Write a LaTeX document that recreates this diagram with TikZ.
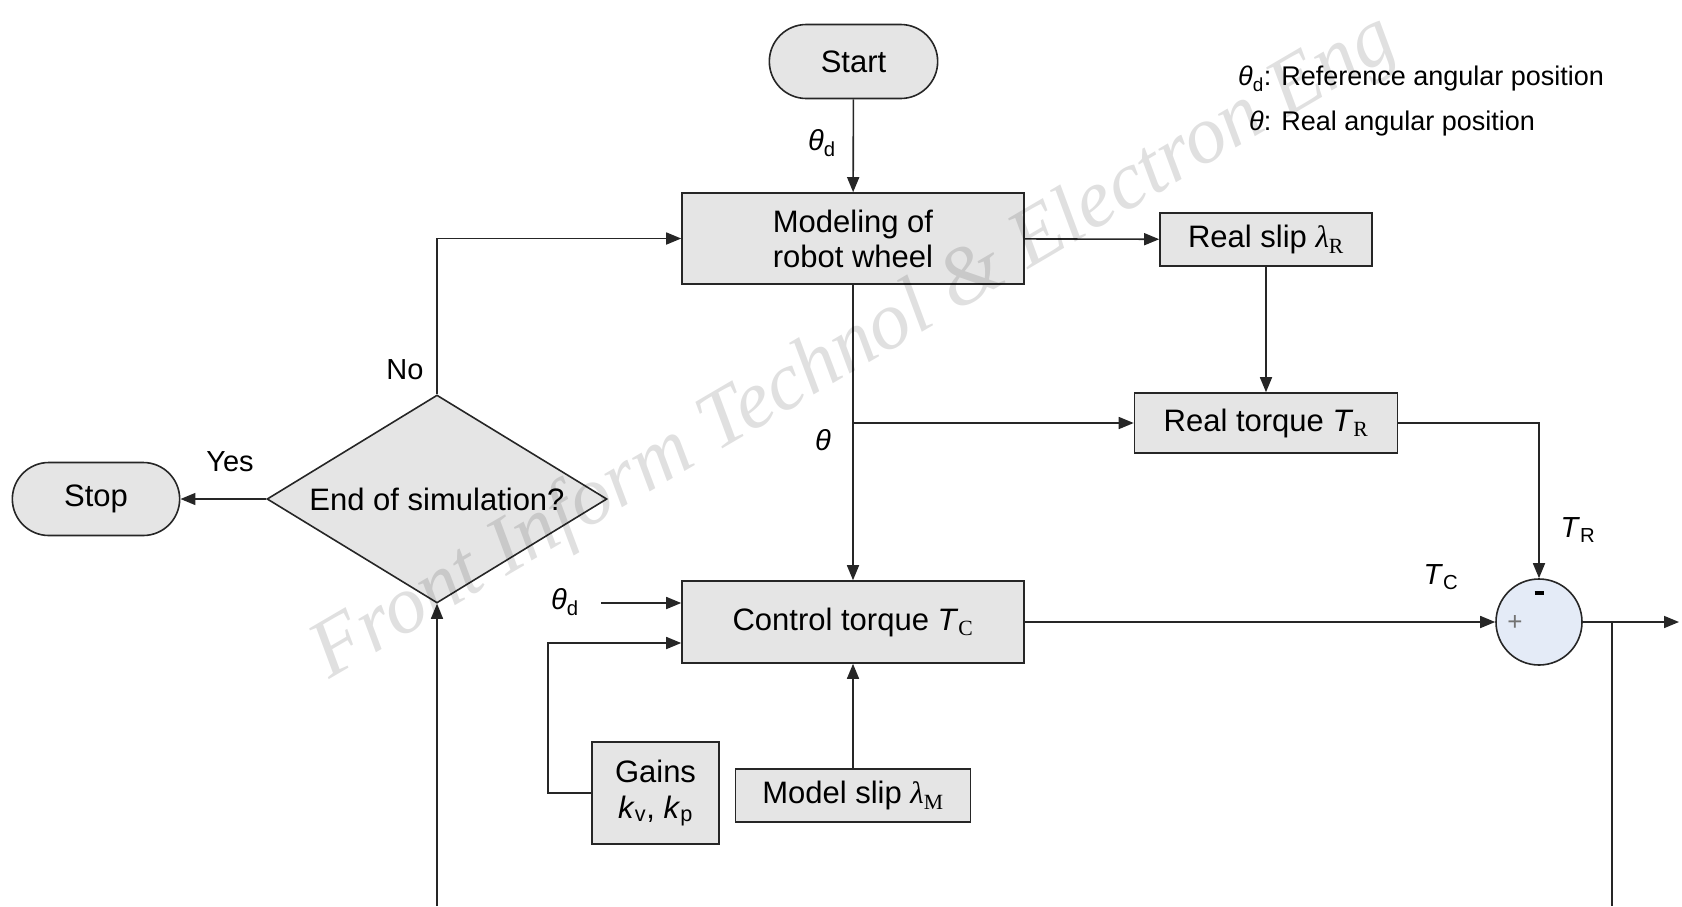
\documentclass[tikz,border=0pt]{standalone}
\usepackage{fontspec}
\setmainfont{Liberation Sans}
\newfontfamily\serif{Liberation Serif}
\usepackage{tikz}
\usetikzlibrary{arrows.meta,shapes.geometric,shapes.misc}

% symbols with serif subscripts as they are set in the boxes
\newcommand{\symT}[1]{\textit{T}\textsubscript{\serif #1}}
\newcommand{\symlam}[1]{{\serif\textit{λ}}\textsubscript{\serif #1}}
\newcommand{\thd}{\textit{θ}\textsubscript{d}}

\definecolor{sumblue}{RGB}{228,235,247}

\begin{document}
\begin{tikzpicture}[x=1pt, y=-1pt,
    font=\fontsize{31}{36}\selectfont,
    line width=1.6pt, draw=black!85,
    block/.style={rectangle, draw=black!85, fill=black!10, inner sep=2pt},
    term/.style={rounded rectangle, draw=black!85, fill=black!10,
      minimum height=74pt},
    decide/.style={diamond, draw=black!85, fill=black!10, inner sep=0pt,
      aspect=1.63, minimum width=340pt, minimum height=208pt},
    sumjunc/.style={circle, draw=black!85, fill=sumblue,
      minimum size=86pt, inner sep=0pt},
    arr/.style={-{Triangle[length=15pt, width=12pt]}},
    lbl/.style={font=\fontsize{29}{34}\selectfont},
    legend/.style={anchor=west, font=\fontsize{27}{30}\selectfont}]
  \useasboundingbox (0,0) rectangle (1682,906);

  % boxes
  \node[term, minimum width=175pt] (start) at (853.5,61.5) {Start};
  \node[block, minimum width=342pt, minimum height=91pt, align=center,
    font=\fontsize{31}{35}\selectfont] (model) at (853,238.5)
    {Modeling of\\robot wheel};
  \node[block, minimum width=212pt, minimum height=53pt] (rslip)
    at (1266,239.5) {Real slip \symlam{R}};
  \node[block, minimum width=263pt, minimum height=60pt] (rtorque)
    at (1266,423) {Real torque \symT{R}};
  \node[block, minimum width=342pt, minimum height=82pt] (ctorque)
    at (853,622) {Control torque \symT{C}};
  \node[block, minimum width=127pt, minimum height=102pt, align=center]
    (gains) at (655.5,793) {Gains\\\textit{k}\textsubscript{v}, \textit{k}\textsubscript{p}};
  \node[block, minimum width=235pt, minimum height=53pt] (mslip)
    at (853,795.5) {Model slip \symlam{M}};
  \node[sumjunc] (sum) at (1539,622) {};
  \node[decide] (check) at (437,499) {End of simulation?};
  \node[term, minimum width=174pt, minimum height=73pt] (stop)
    at (96,499) {Stop};

  % signs of the summing junction
  \node[text=black!55, font=\fontsize{26}{26}\selectfont] (plus)
    at (1515,623) {+};
  \node[inner sep=0pt] (minus) at (1539,593)
    {\rule{9pt}{3.5pt}};

  % branch and loop points
  \coordinate (thbr) at (853,423);
  \coordinate (thdin) at (601,603);
  \coordinate (out) at (1679,622);
  \coordinate (tap) at (1612,622);
  \coordinate (loopR) at (1612,906);
  \coordinate (loopL) at (437,906);

  % connectors
  \draw[arr] (start) -- (model);
  \draw[arr] (model) -- (rslip);
  \draw[arr] (rslip) -- (rtorque);
  \draw[arr] (model) -- (ctorque);
  \draw[arr] (thbr) -- (rtorque);
  \draw[arr] (thdin) -- (thdin -| ctorque.west);
  \draw[arr] (gains.west) -- ++(-43,0) |- ([yshift=-21pt]ctorque.west);
  \draw[arr] (mslip) -- (ctorque);
  \draw[arr] (ctorque) -- (sum);
  \draw[arr] (rtorque) -| (sum);
  \draw[arr] (sum) -- (out);
  \draw (tap) -- (loopR);
  \draw[arr] (loopL) -- (check);
  \draw[arr] (check.north) |- (model.west);
  \draw[arr] (check) -- (stop);

  % signal labels
  \node[lbl] (lthd) at (822,143) {\thd};
  \node[lbl] (lth) at (823,440) {\textit{θ}};
  \node[lbl] (lthdin) at (565,602) {\thd};
  \node[lbl] (lno) at (405,370) {No};
  \node[lbl] (lyes) at (230,462) {Yes};
  \node[lbl] (ltc) at (1441,577) {\textit{T}\textsubscript{C}};
  \node[lbl] (ltr) at (1578,530) {\textit{T}\textsubscript{R}};

  % legend
  \node[legend] (leg1) at (1234,79) {\thd: Reference angular position};
  \node[legend] (leg2) at (1245,124) {\textit{θ}: Real angular position};

  % watermark, faint over everything
  \node[rotate=30.4, text=black, opacity=0.12, inner sep=0pt,
    font=\serif\itshape\fontsize{82}{82}\selectfont] (mark) at (855,348)
    {Front Inform Technol \& Electron Eng};
\end{tikzpicture}
\end{document}
